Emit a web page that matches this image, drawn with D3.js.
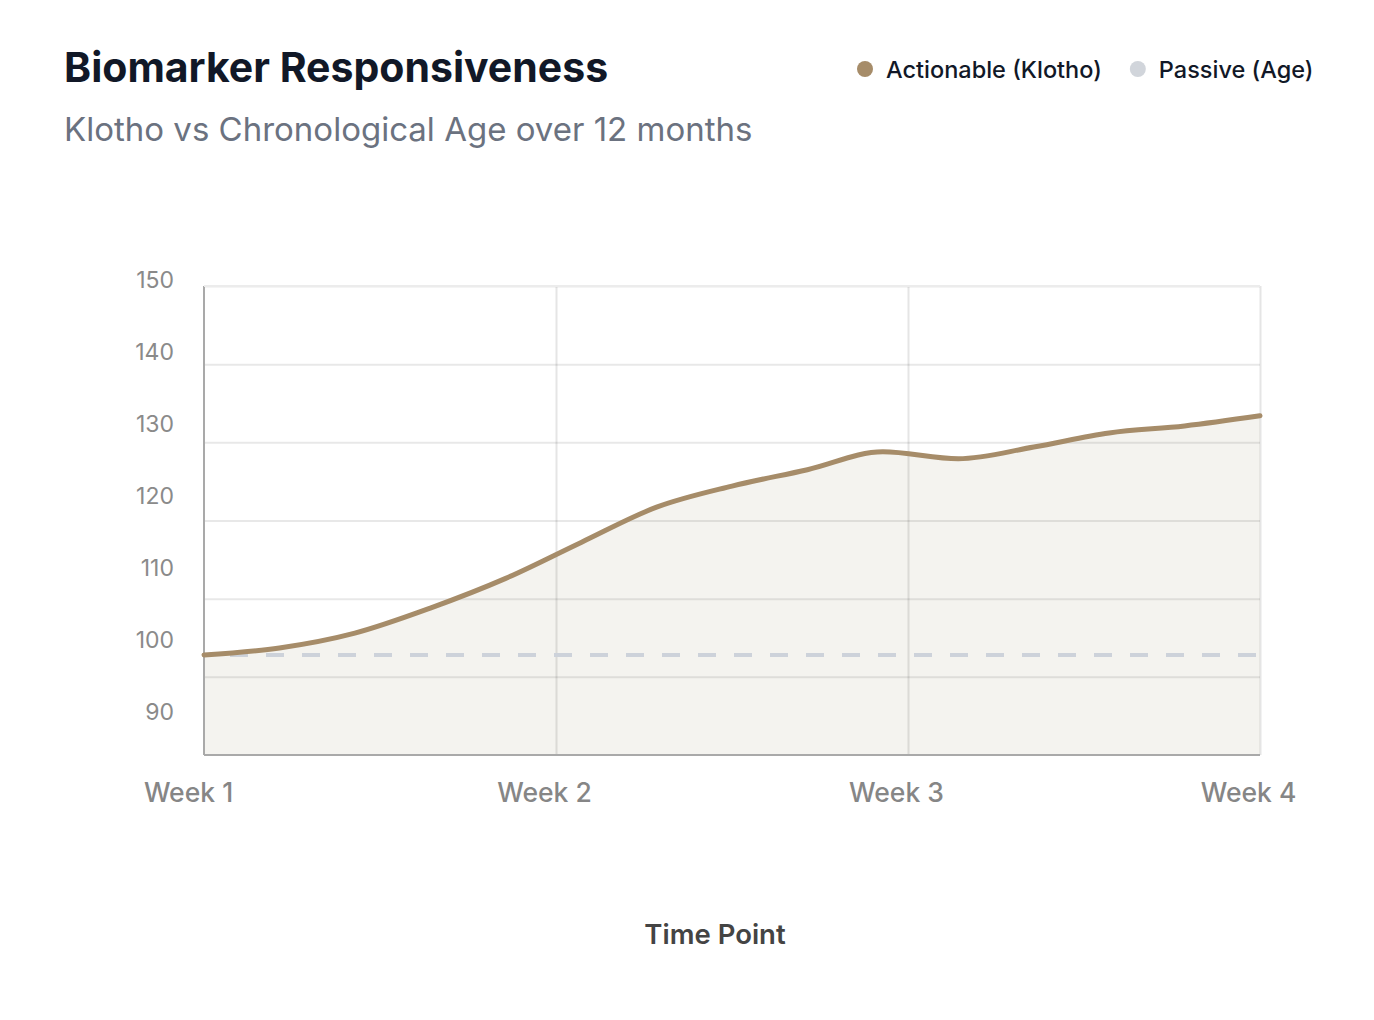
<!DOCTYPE html>
<html>
<head>
<meta charset="utf-8">
<script src="https://cdn.jsdelivr.net/npm/d3@7"></script>
<style>
  body { margin: 0; background: #fff; }
  svg { display: block; font-family: Inter, "Noto Sans", sans-serif; }
</style>
</head>
<body>
<svg id="chart" width="1374" height="1020"></svg>
<script>
// days since start, one reading every 1.5 days
const days = [0, 1.5, 3, 4.5, 6, 7.5, 9, 10.5, 12, 13.5, 15, 16.5, 18, 19.5, 21];
const klotho = [102.8, 103.7, 105.6, 108.8, 112.6, 117.2, 121.7, 124.4, 126.5, 128.8, 127.9, 129.4, 131.2, 132.1, 133.4];
const ageBaseline = [102.8, 102.8];
const weekTicks = [0, 7, 14, 21];
const weekLabels = ["Week 1", "Week 2", "Week 3", "Week 4"];
const yTicks = [90, 100, 110, 120, 130, 140, 150];
const legendItems = ["Actionable (Klotho)", "Passive (Age)"];
const legendColors = ["#a68c69", "#d1d5db"];

const margin = { top: 286, left: 204, right: 114, bottom: 265 };
const svg = d3.select('#chart');
const width = 1374 - margin.left - margin.right;
const height = 1020 - margin.top - margin.bottom;

// titles
svg.append('text')
  .attr('x', 64).attr('y', 82)
  .attr('font-size', 41).attr('font-weight', 700)
  .attr('fill', '#111827')
  .text('Biomarker Responsiveness');

svg.append('text')
  .attr('x', 64).attr('y', 141)
  .attr('font-size', 33)
  .attr('fill', '#6b7280')
  .text('Klotho vs Chronological Age over 12 months');

// legend
const legend = svg.append('g').attr('transform', 'translate(865,69)');
let lx = 0;
legendItems.forEach((name, i) => {
  const item = legend.append('g').attr('transform', `translate(${lx},0)`);
  item.append('circle').attr('r', 8).attr('fill', legendColors[i]);
  const t = item.append('text')
    .attr('x', 21).attr('y', 8.5)
    .attr('font-size', 23.5).attr('font-weight', 500)
    .attr('fill', '#111827')
    .text(name);
  lx += 21 + t.node().getComputedTextLength() + 36;
});

const g = svg.append('g')
  .attr('transform', `translate(${margin.left},${margin.top})`);

const x = d3.scaleLinear().domain([0, 21]).range([0, width]);
const y = d3.scaleLinear().domain([90, 150]).range([height, 0]);
// tick labels sit a bit squeezed relative to the grid in the original
const yLabel = d3.scaleLinear().domain([90, 150]).range([712 - margin.top, 280 - margin.top]);

const data = days.map((d, i) => ({ day: d, value: klotho[i] }));

// area under the klotho line
g.append('path')
  .datum(data)
  .attr('fill', '#f4f3ef')
  .attr('d', d3.area()
    .x(d => x(d.day))
    .y0(height)
    .y1(d => y(d.value))
    .curve(d3.curveMonotoneX));

// horizontal grid
g.append('g')
  .attr('class', 'y-grid')
  .call(d3.axisLeft(y).tickValues(yTicks.slice(1)).tickSize(-width).tickFormat(''))
  .call(a => a.select('.domain').remove())
  .call(a => a.selectAll('line').attr('stroke', 'rgba(0,0,0,0.09)').attr('stroke-width', 2));

// vertical grid
g.append('g')
  .attr('class', 'x-grid')
  .call(d3.axisTop(x).tickValues(weekTicks.slice(1)).tickSize(-height).tickFormat(''))
  .call(a => a.select('.domain').remove())
  .call(a => a.selectAll('line').attr('stroke', 'rgba(0,0,0,0.1)').attr('stroke-width', 2));

// y tick labels
g.append('g')
  .attr('class', 'y-axis')
  .attr('transform', 'translate(-30,0)')
  .call(d3.axisLeft(yLabel).tickValues(yTicks).tickSize(0).tickPadding(0))
  .call(a => a.select('.domain').remove())
  .call(a => a.selectAll('text')
    .attr('font-size', 23).attr('fill', '#8a8a8a')
    .attr('font-family', 'Inter, "Noto Sans", sans-serif'));

// x axis
g.append('g')
  .attr('class', 'x-axis')
  .attr('transform', `translate(0,${height})`)
  .call(d3.axisBottom(x).tickValues(weekTicks).tickSize(0).tickPadding(28)
    .tickFormat((d, i) => weekLabels[i]))
  .call(a => a.select('.domain').remove())
  .call(a => a.selectAll('text')
    .attr('dx', (d, i) => i === 0 ? -16 : -12)
    .attr('font-size', 26.5).attr('font-weight', 500).attr('fill', '#868686')
    .attr('font-family', 'Inter, "Noto Sans", sans-serif'));

// axis lines
g.append('line')
  .attr('x1', 0).attr('x2', 0).attr('y1', 0).attr('y2', height)
  .attr('stroke', '#a9a9a9').attr('stroke-width', 2);
g.append('line')
  .attr('x1', 0).attr('x2', width).attr('y1', height).attr('y2', height)
  .attr('stroke', '#a9a9a9').attr('stroke-width', 2);
g.append('line')
  .attr('x1', 0).attr('x2', width).attr('y1', 0).attr('y2', 0)
  .attr('stroke', '#ececec').attr('stroke-width', 2);

// passive age baseline
g.append('path')
  .datum(ageBaseline.map((v, i) => ({ day: i === 0 ? days[0] : days[days.length - 1], value: v })))
  .attr('fill', 'none')
  .attr('stroke', '#cdd2da')
  .attr('stroke-width', 4)
  .attr('stroke-dasharray', '18 18')
  .attr('stroke-dashoffset', 10)
  .attr('d', d3.line().x(d => x(d.day)).y(d => y(d.value)));

// klotho line
g.append('path')
  .datum(data)
  .attr('fill', 'none')
  .attr('stroke', '#a68c69')
  .attr('stroke-width', 5)
  .attr('stroke-linecap', 'round')
  .attr('d', d3.line()
    .x(d => x(d.day))
    .y(d => y(d.value))
    .curve(d3.curveMonotoneX));

// axis title
svg.append('text')
  .attr('x', 715).attr('y', 944)
  .attr('text-anchor', 'middle')
  .attr('font-size', 27.5).attr('font-weight', 600)
  .attr('fill', '#444')
  .text('Time Point');
</script>
</body>
</html>
